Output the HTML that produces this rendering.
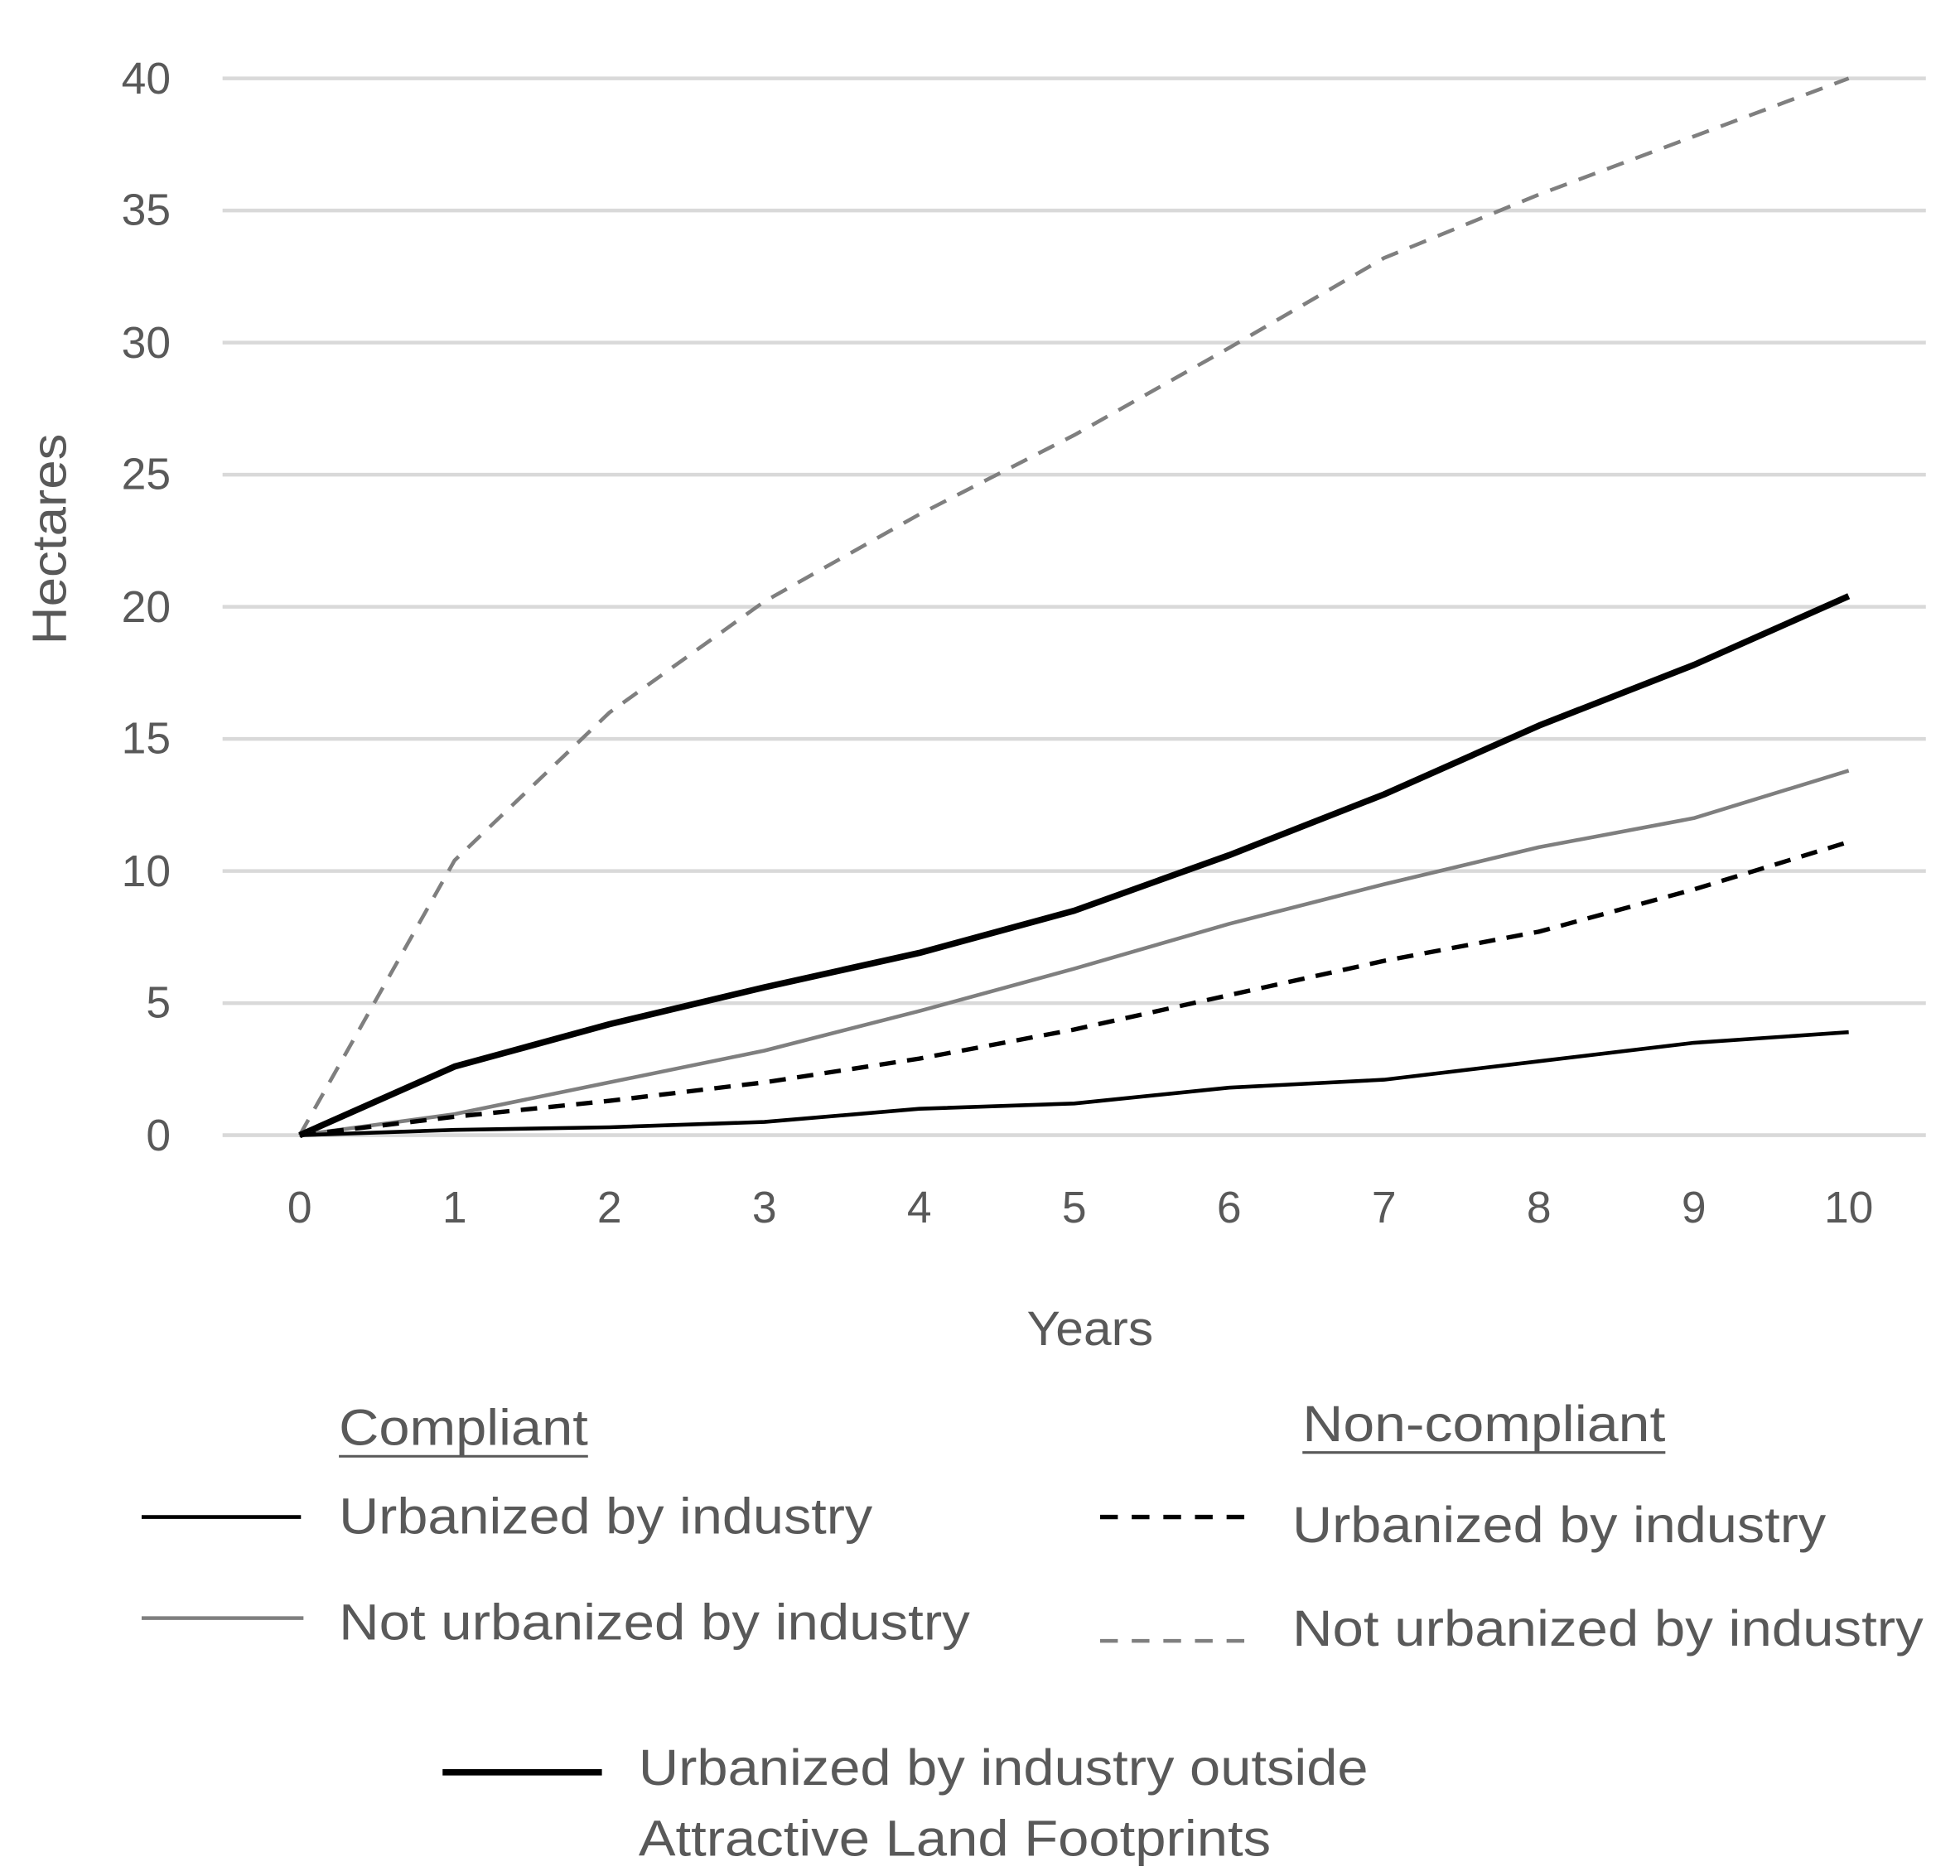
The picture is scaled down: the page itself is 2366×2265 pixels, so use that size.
<!DOCTYPE html>
<html><head><meta charset="utf-8"><style>
html,body{margin:0;padding:0;background:#fff;}
svg{display:block;}
text{font-family:"Liberation Sans",sans-serif;fill:#595959;}
</style></head><body>
<svg width="2366" height="2265" viewBox="0 0 1550 1484" preserveAspectRatio="none" xmlns="http://www.w3.org/2000/svg">
<g stroke="#d9d9d9" stroke-width="3">
<line x1="176" x2="1523" y1="62" y2="62"/>
<line x1="176" x2="1523" y1="166.5" y2="166.5"/>
<line x1="176" x2="1523" y1="271" y2="271"/>
<line x1="176" x2="1523" y1="375.5" y2="375.5"/>
<line x1="176" x2="1523" y1="480" y2="480"/>
<line x1="176" x2="1523" y1="584.5" y2="584.5"/>
<line x1="176" x2="1523" y1="689" y2="689"/>
<line x1="176" x2="1523" y1="793.5" y2="793.5"/>
<line x1="176" x2="1523" y1="898" y2="898"/>
</g>
<g font-size="35" text-anchor="end">
<text x="135" y="74">40</text><text x="135" y="178">35</text><text x="135" y="283">30</text>
<text x="135" y="387">25</text><text x="135" y="492">20</text><text x="135" y="596">15</text>
<text x="135" y="701">10</text><text x="135" y="805">5</text><text x="135" y="910">0</text>
</g>
<g font-size="35" text-anchor="middle">
<text x="237" y="967">0</text><text x="359.5" y="967">1</text><text x="482" y="967">2</text>
<text x="604.5" y="967">3</text><text x="727" y="967">4</text><text x="849.5" y="967">5</text>
<text x="972" y="967">6</text><text x="1094.5" y="967">7</text><text x="1217" y="967">8</text>
<text x="1339.5" y="967">9</text><text x="1462" y="967">10</text>
</g>
<text x="812" y="1064" font-size="38" textLength="100" lengthAdjust="spacingAndGlyphs">Years</text>
<text transform="translate(52,510) rotate(-90)" font-size="38" textLength="167" lengthAdjust="spacingAndGlyphs">Hectares</text>
<g fill="none" stroke-linejoin="round">
<polyline stroke="#7f7f7f" stroke-width="3" stroke-dasharray="14,10" points="237,898 359.5,680.6 482,563.6 604.5,475.8 727,406.9 849.5,344.2 972,275.2 1094.5,204.1 1217,153.9 1339.5,107.9 1462,62"/>
<polyline stroke="#000" stroke-width="5" points="237,898 359.5,843.7 482,810.2 604.5,781 727,753.8 849.5,720.4 972,676.5 1094.5,628.4 1217,574 1339.5,526 1462,471.6"/>
<polyline stroke="#7f7f7f" stroke-width="3" points="237,898 359.5,881.3 482,856.2 604.5,831.1 727,799.8 849.5,766.3 972,730.8 1094.5,699.5 1217,670.2 1339.5,647.2 1462,609.6"/>
<polyline stroke="#000" stroke-width="3.5" stroke-dasharray="13,9" points="237,898 359.5,883.4 482,870.8 604.5,856.2 727,837.4 849.5,814.4 972,787.2 1094.5,760.1 1217,737 1339.5,703.6 1462,666"/>
<polyline stroke="#000" stroke-width="3" points="237,898 359.5,893.8 482,891.7 604.5,887.5 727,877.1 849.5,872.9 972,860.4 1094.5,854.1 1217,839.5 1339.5,824.9 1462,816.5"/>
</g>
<g font-size="40" lengthAdjust="spacingAndGlyphs">
<text x="268" y="1143" textLength="197" lengthAdjust="spacingAndGlyphs">Compliant</text>
<line x1="268" x2="465" y1="1152" y2="1152" stroke="#595959" stroke-width="2"/>
<text x="1030" y="1140" textLength="287" lengthAdjust="spacingAndGlyphs">Non-compliant</text>
<line x1="1030" x2="1317" y1="1149" y2="1149" stroke="#595959" stroke-width="2"/>
<text x="268" y="1213" textLength="422" lengthAdjust="spacingAndGlyphs">Urbanized by industry</text>
<text x="268" y="1297" textLength="499" lengthAdjust="spacingAndGlyphs">Not urbanized by industry</text>
<text x="1022" y="1220" textLength="422" lengthAdjust="spacingAndGlyphs">Urbanized by industry</text>
<text x="1022" y="1302" textLength="499" lengthAdjust="spacingAndGlyphs">Not urbanized by industry</text>
<text x="505" y="1412" textLength="577" lengthAdjust="spacingAndGlyphs">Urbanized by industry outside</text>
<text x="505" y="1468" textLength="500" lengthAdjust="spacingAndGlyphs">Attractive Land Footprints</text>
</g>
<line x1="112" x2="238" y1="1200" y2="1200" stroke="#000" stroke-width="3"/>
<line x1="112" x2="240" y1="1280" y2="1280" stroke="#7f7f7f" stroke-width="3"/>
<line x1="870" x2="990" y1="1200" y2="1200" stroke="#000" stroke-width="3.5" stroke-dasharray="14,11"/>
<line x1="870" x2="990" y1="1298" y2="1298" stroke="#7f7f7f" stroke-width="3" stroke-dasharray="14,11"/>
<line x1="350" x2="476" y1="1402" y2="1402" stroke="#000" stroke-width="5"/>
</svg>
</body></html>
